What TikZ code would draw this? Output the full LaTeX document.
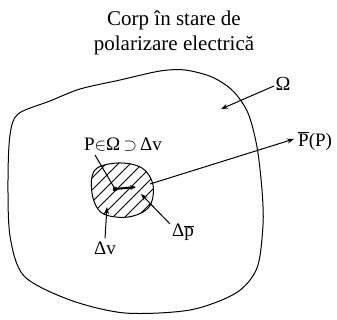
\documentclass[tikz,border=0pt]{standalone}
\usepackage{fontspec}
\setmainfont{Liberation Serif}
\usetikzlibrary{arrows.meta}
\begin{document}
\begin{tikzpicture}[x=1pt,y=-1pt,
  lbl/.style={inner sep=0pt,font=\fontsize{19}{22}\selectfont},
  con/.style={line width=1pt},
  arr/.style={con,-{Stealth[length=7pt,width=5pt]}}]
\useasboundingbox (0,0) rectangle (337,320);
% title
\node[inner sep=0pt,align=center,font=\fontsize{21}{25}\selectfont] (title) at (174,33) {Corp în stare de\\polarizare electrică};
% outer body
\draw[line width=1pt] plot[smooth cycle,tension=0.5] coordinates {
 (80,89) (120,80) (160,71) (185,70) (212,77) (233,91) (248,113) (257,147)
 (262,190) (263,225) (257,268) (236,293) (190,310) (125,313) (70,300)
 (24,276) (10,236) (8,180) (10,135) (18,114) (50,101)};
% small region
\def\blob{plot[smooth cycle,tension=0.6] coordinates {(95,170) (118,163) (142,168) (153,185) (149,207) (128,217) (102,213) (92,193)}}
\begin{scope}
\clip \blob;
\foreach \i in {-80,-68,...,120} {
  \draw[line width=0.8pt] (60+\i,230) -- (160+\i,130);
}
\end{scope}
\draw[line width=1pt] \blob;
% points
\coordinate (P) at (115,189);
\coordinate (dp) at (136,187);
\fill (P) circle (2.3pt);
\draw[line width=2pt,-{Stealth[length=6pt,width=5pt]}] (P) -- (dp);
% labels
\node[lbl] (pl) at (123,145) {P$\in$Ω\,$\supset$\,Δv};
\draw[con] (95,155) -- (P);
\node[lbl] (dv) at (105,248) {Δv};
\coordinate (dvt) at (107,207);
\draw[arr] (dv.north) ++(0,-3) -- (dvt);
\node[lbl] (dpl) at (183,232) {Δ$\overline{\mbox{p}}$};
\coordinate (dpt) at (141,194);
\draw[arr] (170,224) -- (dpt);
\node[lbl,anchor=west] (pp) at (298,141) {$\overline{\mbox{P}}$(P)};
\coordinate (ppt) at (294,139);
\draw[arr] (150,184) -- (ppt);
\node[lbl,font=\fontsize{20}{22}\selectfont] (om) at (283,84) {Ω};
\coordinate (omt) at (221,109);
\draw[arr] (274,86) -- (omt);
\end{tikzpicture}
\end{document}
